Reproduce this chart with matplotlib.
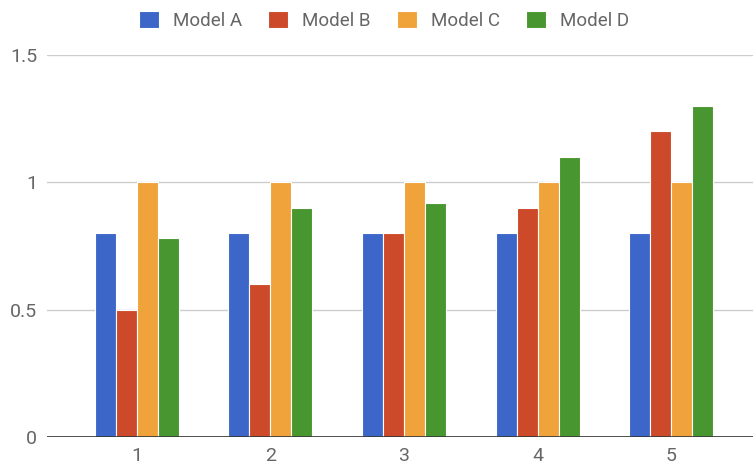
import matplotlib.pyplot as plt
import numpy as np

plt.rcParams['font.family'] = ['Roboto', 'DejaVu Sans']

categories = ['1', '2', '3', '4', '5']
series_names = ['Model A', 'Model B', 'Model C', 'Model D']
model_a = [0.8, 0.8, 0.8, 0.8, 0.8]
model_b = [0.5, 0.6, 0.8, 0.9, 1.2]
model_c = [1.0, 1.0, 1.0, 1.0, 1.0]
model_d = [0.78, 0.9, 0.92, 1.1, 1.3]
colors = ['#3c67c9', '#cc4a2a', '#f0a23b', '#48962f']

fig = plt.figure(figsize=(7.53, 4.66), dpi=100)
ax = fig.add_axes([47 / 753, 29 / 466, 706 / 753, 382 / 466])

x = np.arange(1, len(categories) + 1)
w = 0.157
for i, (vals, name, c) in enumerate(zip([model_a, model_b, model_c, model_d], series_names, colors)):
    ax.bar(x + (i - 1.5) * w, vals, w, color=c, edgecolor='white', linewidth=0.8, label=name, zorder=3)

ax.set_xlim(0.33, 5.61)
ax.set_ylim(0, 1.5)
ax.set_yticks([0, 0.5, 1, 1.5])
ax.set_yticklabels(['0', '0.5', '1', '1.5'])
ax.set_xticks(x)
ax.set_xticklabels(categories)
ax.grid(axis='y', color='#cccccc', linewidth=1, zorder=0)
ax.axhline(0, color='#333333', linewidth=1.2, zorder=4)
for s in ax.spines.values():
    s.set_visible(False)
ax.tick_params(length=0, labelsize=14, labelcolor='#666666')
ax.tick_params(axis='y', pad=7)
ax.tick_params(axis='x', pad=7)

leg = fig.legend(loc='upper center', bbox_to_anchor=(384 / 753, 1.012), ncol=4, frameon=False,
                 fontsize=13.5, handlelength=1.07, handleheight=1.0, columnspacing=1.4,
                 handletextpad=0.75)
for t in leg.get_texts():
    t.set_color('#666666')

fig.savefig('out.png', dpi=100)
